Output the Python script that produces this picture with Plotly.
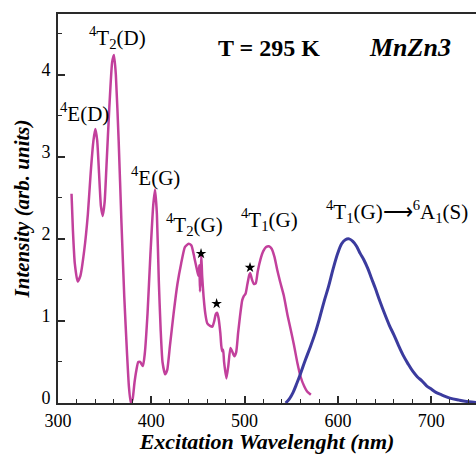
import plotly.graph_objects as go

# Excitation spectrum (magenta), wavelength in nm and intensity in arb. units
exc_nm = [314.5, 316, 318, 321, 324, 328, 332, 335, 338, 340, 342, 344, 346, 348,
          350, 352, 355, 358, 360, 362, 365, 368, 371, 374, 376, 378, 380, 382,
          384, 386, 388, 391, 393, 396, 399, 402, 404, 406, 408, 410, 412, 414.8,
          417, 420, 424, 428, 432, 436, 440, 443, 446, 449, 450.5, 451.5, 452.2,
          453, 453.6, 454.5, 456, 458, 460, 463, 465.5, 467.5, 469, 470.5, 472,
          474, 475, 476, 477, 478, 480.5, 482.5, 484.8, 487, 489, 491, 493, 495,
          497.4, 499, 501, 503, 505, 506, 508, 510, 512, 514, 517, 520, 523, 526,
          529, 532, 535, 538, 542, 546, 549.5, 553, 556.7, 560, 564, 567, 571]
exc_int = [2.55, 2.1, 1.7, 1.48, 1.55, 1.85, 2.3, 2.8, 3.2, 3.34, 3.2, 2.8, 2.4, 2.28,
           2.45, 2.9, 3.6, 4.15, 4.24, 4.0, 3.2, 2.2, 1.3, 0.6, 0.2, 0.0, 0.05, 0.25,
           0.4, 0.5, 0.5, 0.45, 0.6, 1.1, 1.8, 2.4, 2.6, 2.3, 1.5, 0.9, 0.5, 0.35,
           0.4, 0.7, 1.1, 1.45, 1.7, 1.9, 1.94, 1.92, 1.78, 1.62, 1.55, 1.68, 1.36,
           1.55, 1.8, 1.55, 1.3, 1.08, 0.97, 0.94, 0.93, 1.0, 1.08, 1.1, 1.04,
           0.85, 0.7, 0.63, 0.65, 0.5, 0.3, 0.45, 0.67, 0.62, 0.57, 0.62, 0.85, 1.05,
           1.25, 1.3, 1.33, 1.45, 1.56, 1.58, 1.5, 1.45, 1.46, 1.6, 1.75, 1.85, 1.9, 1.91,
           1.88, 1.78, 1.62, 1.48, 1.31, 1.07, 0.89, 0.7, 0.48, 0.32, 0.2, 0.14, 0.1]

# Emission band 4T1(G) -> 6A1(S) (blue)
em_nm = [544, 548, 552, 556, 560, 565, 570, 575, 580, 585, 590, 595, 600, 604, 608,
         612, 616, 620, 624, 628, 632, 636, 640, 645, 650, 655, 660, 665, 670, 675,
         680, 685, 690, 695, 700, 705, 711, 720, 730, 740, 750]
em_int = [0.0, 0.05, 0.13, 0.24, 0.36, 0.52, 0.67, 0.83, 1.02, 1.23, 1.42, 1.64, 1.83,
          1.94, 1.99, 2.0, 1.97, 1.91, 1.82, 1.74, 1.64, 1.52, 1.40, 1.24, 1.09, 0.95,
          0.83, 0.70, 0.58, 0.48, 0.39, 0.32, 0.27, 0.21, 0.17, 0.13, 0.10, 0.06,
          0.035, 0.015, 0.005]

# Star markers over the weak features
star_nm = [453.3, 470.0, 505.8]
star_y = [1.82, 1.21, 1.65]

# Transition labels: text, x (nm), y (arb. units)
label_text = ["<sup>4</sup>T<sub>2</sub>(D)", "<sup>4</sup>E(D)", "<sup>4</sup>E(G)",
              "<sup>4</sup>T<sub>2</sub>(G)", "<sup>4</sup>T<sub>1</sub>(G)",
              "<sup>4</sup>T<sub>1</sub>(G)\u27f6<sup>6</sup>A<sub>1</sub>(S)"]
label_x = [364.3, 327.9, 405.0, 446.8, 527.0, 663.0]
label_y = [4.45, 3.54, 2.76, 2.17, 2.23, 2.33]

x_ticks = [300, 400, 500, 600, 700]
y_ticks = [0, 1, 2, 3, 4]

SERIF = "Liberation Serif, Times New Roman, serif"
AXIS_COLOR = "#2a2a2a"

fig = go.Figure()
fig.add_trace(go.Scatter(x=exc_nm, y=exc_int, mode="lines",
                         line=dict(color="#C2409C", width=2.5, shape="spline", smoothing=0.5),
                         showlegend=False, hoverinfo="skip"))
fig.add_trace(go.Scatter(x=em_nm, y=em_int, mode="lines",
                         line=dict(color="#3B3B9E", width=3, shape="spline", smoothing=1.0),
                         showlegend=False, hoverinfo="skip"))
fig.add_trace(go.Scatter(x=star_nm, y=star_y, mode="markers",
                         marker=dict(symbol="star", size=8, color="black"),
                         showlegend=False, hoverinfo="skip"))

for t, lx, ly in zip(label_text, label_x, label_y):
    fig.add_annotation(x=lx, y=ly, text=t, showarrow=False,
                       font=dict(family=SERIF, size=21, color="black"))

fig.add_annotation(x=526, y=4.33, text="<b>T = 295 K</b>", showarrow=False,
                   font=dict(family=SERIF, size=24, color="black"))
fig.add_annotation(x=677, y=4.33, text="<b><i>MnZn3</i></b>", showarrow=False,
                   font=dict(family=SERIF, size=26, color="black"))

fig.update_layout(
    width=476, height=454,
    margin=dict(l=58, r=0, t=14, b=51),
    paper_bgcolor="white", plot_bgcolor="white",
    font=dict(family=SERIF, color="black"),
    xaxis=dict(
        range=[300, 748], tickvals=x_ticks, ticks="inside", ticklen=7, tickwidth=1.5,
        tickcolor=AXIS_COLOR, showline=True, linecolor=AXIS_COLOR, linewidth=2,
        mirror=True, showgrid=False, zeroline=False,
        tickfont=dict(family=SERIF, size=18, color="black"),
        minor=dict(dtick=20, ticks="inside", ticklen=4, tickwidth=1.3, tickcolor=AXIS_COLOR),
        title=dict(text="<b><i>Excitation Wavelenght (nm)</i></b>",
                   font=dict(family=SERIF, size=22, color="black"), standoff=7),
    ),
    yaxis=dict(
        range=[0, 4.74], tickvals=y_ticks, ticks="inside", ticklen=7, tickwidth=1.5,
        tickcolor=AXIS_COLOR, showline=True, linecolor=AXIS_COLOR, linewidth=2,
        mirror=False, showgrid=False, zeroline=False, ticklabelshift=-5,
        ticklabelstandoff=2,
        tickfont=dict(family=SERIF, size=18, color="black"),
        minor=dict(dtick=0.5, ticks="inside", ticklen=4, tickwidth=1.3, tickcolor=AXIS_COLOR),
        title=dict(text="<b><i>Intensity (arb. units)</i></b>",
                   font=dict(family=SERIF, size=21, color="black"), standoff=6),
    ),
)

fig.write_html("out.html")
